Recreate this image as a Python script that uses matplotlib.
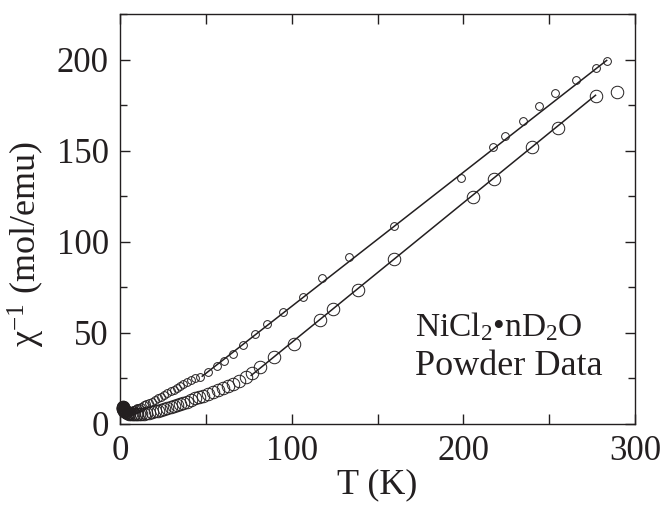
import numpy as np
import matplotlib.pyplot as plt
from matplotlib.ticker import MultipleLocator

plt.rcParams['font.family'] = ['Liberation Serif', 'DejaVu Serif']
plt.rcParams['mathtext.fontset'] = 'custom'
plt.rcParams['mathtext.rm'] = 'Liberation Serif'
plt.rcParams['mathtext.it'] = 'Liberation Serif:italic'

ink = '#231f20'

# small circles (upper branch)
T_a = [1.5, 1.6, 1.7, 1.75, 1.85, 1.95, 2.0, 2.15, 2.3, 2.45, 2.6, 2.75, 2.95, 3.1, 3.3, 3.5,
       3.7, 4.1, 4.6, 5.1, 5.5, 6.4, 7.4, 8.3,
       9.2, 10.1, 11, 12.4, 13.8, 15.2, 16.6, 18.4, 20.2, 22.1, 23.9, 25.8, 27.6, 29.5, 31.3, 33.1, 35, 36.8,
       39.1, 41.4, 43.7, 46.6, 51.5, 56.3, 60.6, 65.6, 71.5, 78.6, 85.8, 94.8, 106.4,
       117.4, 133.6, 159.8, 198.4, 217.5, 224.3, 235, 244.3, 253.6, 265.4, 277.3, 283.5]
chi_a = [10.2, 10.0, 9.7, 9.5, 9.3, 9.2, 9.0, 8.85, 8.7, 8.55, 8.4, 8.25, 8.1, 8.0, 7.9, 7.8,
         7.7, 7.5, 7.4, 7.3, 7.3, 7.4, 7.6, 7.9,
         8.2, 8.6, 9.0, 9.6, 10.2, 10.9, 11.5, 12.3, 13.2, 14.1, 15.0, 16.0, 16.9, 17.9, 18.9, 19.9, 20.9, 21.9,
         23.1, 24.3, 25.2, 26.0, 28.7, 32.0, 34.6, 38.4, 43.4, 49.2, 54.7, 61.3, 69.5,
         80.0, 91.5, 108.8, 135.2, 152.2, 157.9, 166.5, 174.5, 181.8, 188.8, 195.2, 199.4]

# large circles (lower branch)
T_b = [1.5, 1.6, 1.7, 1.75, 1.85, 2.0, 2.1, 2.25, 2.4, 2.6, 2.75, 3.0, 3.2, 3.45,
       3.7, 4.1, 4.6, 5.1, 5.5, 6.4, 7.4, 8.3, 9.2, 10.1, 11,
       12.4, 13.8, 15.2, 16.6, 18.4, 20.2, 22.1, 23.9, 25.8, 27.6, 29.5, 31.3, 33.1, 35, 36.8, 39.1, 41.4, 43.7,
       46, 48.6, 51.5, 54.3, 57.2, 60.1, 63, 65.8, 69.2, 73.2, 76.8, 81.5, 89.5, 101.2,
       116.3, 124.3, 138.8, 159.8, 205.8, 217.9, 240.2, 255, 277.3, 289.3]
chi_b = [9.6, 9.3, 8.8, 8.6, 8.4, 8.2, 8.0, 7.8, 7.6, 7.4, 7.2, 7.0, 6.8, 6.65,
         6.5, 6.2, 6.0, 5.85, 5.7, 5.5, 5.4, 5.3, 5.3, 5.3, 5.4,
         5.5, 5.7, 5.9, 6.1, 6.5, 6.9, 7.3, 7.8, 8.3, 8.8, 9.3, 9.8, 10.3, 10.9, 11.5, 12.3, 13.1, 14.0,
         14.8, 15.6, 16.5, 17.6, 18.7, 19.8, 20.9, 22.2, 23.6, 25.8, 28.2, 31.5, 36.5, 44.0,
         57.1, 63.1, 73.5, 90.8, 124.8, 134.4, 152.2, 162.6, 180.0, 182.4]

# Curie-Weiss fit lines: slope, intercept, T range
fit_a = (0.7356, -9.0, 47.9, 283.5)
fit_b = (0.7664, -31.9, 76.4, 277.0)

fig = plt.figure(figsize=(6.65, 5.05), dpi=100)
ax = fig.add_axes([0.1805, 0.1604, 0.7744, 0.8119])

ax.plot(T_a, chi_a, 'o', ms=5.6, mfc='none', mec=ink, mew=0.7, clip_on=False)
ax.plot(T_b, chi_b, 'o', ms=9, mfc='none', mec=ink, mew=0.7, clip_on=False)

for s, c, t0, t1 in (fit_a, fit_b):
    tt = np.array([t0, t1])
    ax.plot(tt, s * tt + c, '-', color=ink, lw=1.1)

ax.set_xlim(0, 300)
ax.set_ylim(0, 225)
ax.xaxis.set_major_locator(MultipleLocator(100))
ax.xaxis.set_minor_locator(MultipleLocator(50))
ax.yaxis.set_major_locator(MultipleLocator(50))
ax.yaxis.set_minor_locator(MultipleLocator(25))
ax.tick_params(which='both', direction='in', colors=ink, labelsize=25, width=1.0,
               top=True, right=True)
ax.tick_params(which='major', length=7.2)
ax.tick_params(which='minor', length=5)
ax.tick_params(axis='x', which='minor', length=7)
ax.tick_params(axis='y', pad=8)
ax.tick_params(axis='x', pad=8)
for sp in ax.spines.values():
    sp.set_color(ink)
    sp.set_linewidth(1.0)

ax.set_xlabel('T (K)', fontsize=26, color=ink)
ax.xaxis.set_label_coords(0.5, -0.108)
ax.set_ylabel(r'χ$^{\mathregular{-1}}$ (mol/emu)', fontsize=26, color=ink)
ax.yaxis.set_label_coords(-0.142, 0.44)

ax.text(171.8, 48.3, r'$\mathregular{NiCl_2•nD_2O}$', fontsize=24,
        color=ink, va='baseline', ha='left')
ax.text(171.8, 26.8, 'Powder Data', fontsize=26, color=ink, va='baseline', ha='left')

fig.savefig('out.png', dpi=100)
